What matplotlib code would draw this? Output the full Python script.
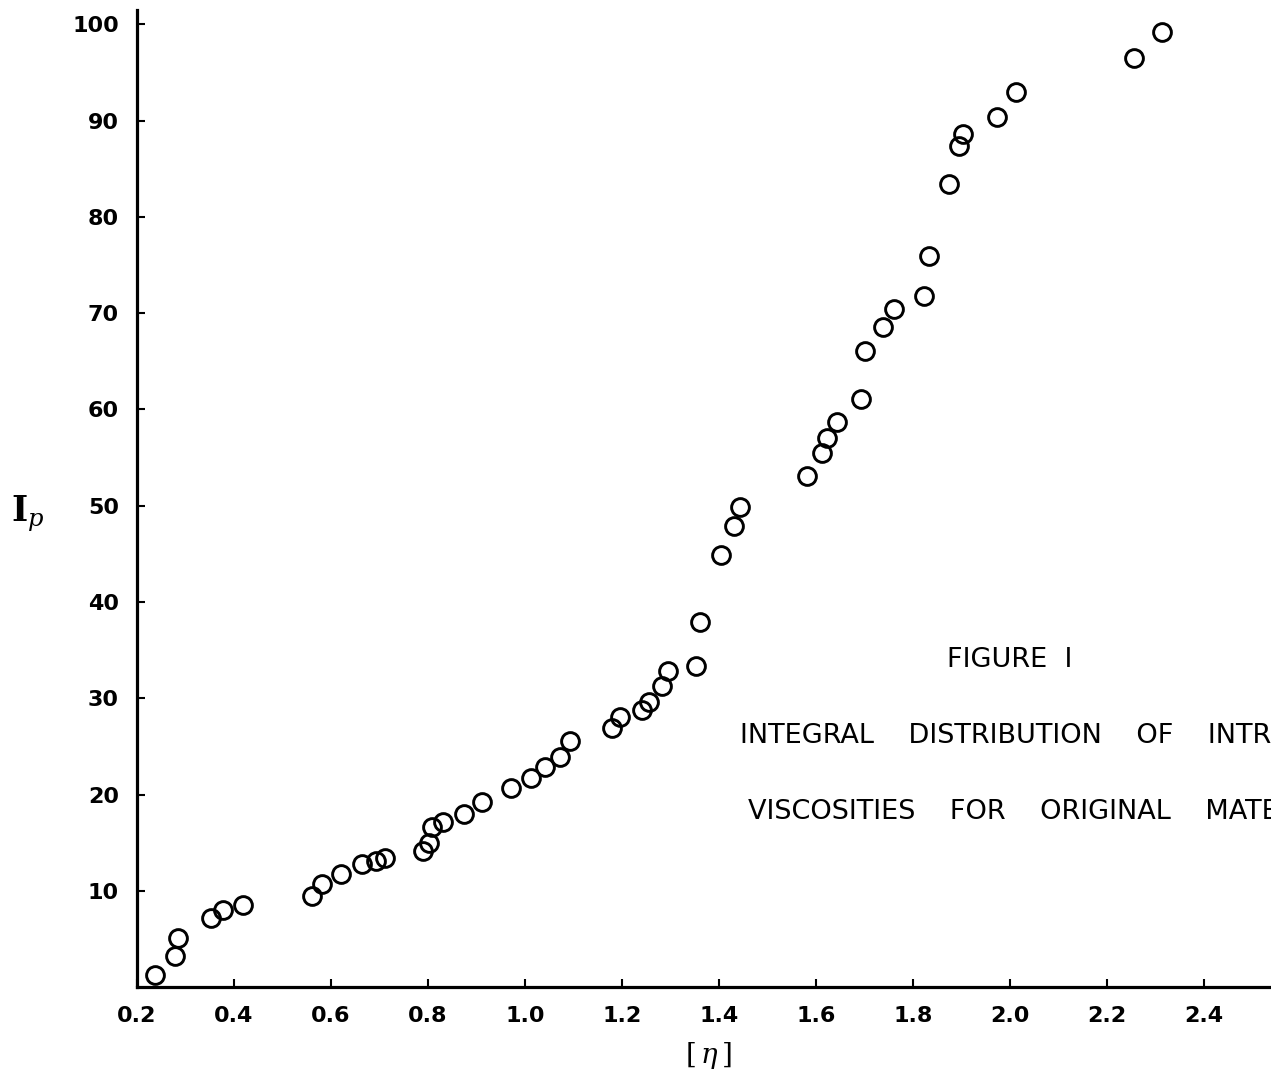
import matplotlib
matplotlib.use("Agg")
import matplotlib.pyplot as plt

# intrinsic viscosity [eta] and integral distribution I_p
eta = [
    0.237, 0.278, 0.285, 0.353, 0.377, 0.419, 0.561, 0.581, 0.621, 0.664,
    0.693, 0.711, 0.790, 0.802, 0.808, 0.831, 0.874, 0.911, 0.971, 1.012,
    1.041, 1.072, 1.093, 1.179, 1.196, 1.241, 1.256, 1.282, 1.295, 1.353,
    1.361, 1.404, 1.431, 1.443, 1.581, 1.612, 1.622, 1.643, 1.693, 1.701,
    1.738, 1.761, 1.822, 1.833, 1.874, 1.895, 1.903, 1.973, 2.012, 2.256,
    2.313,
]
ip = [
    1.25, 3.22, 5.09, 7.17, 8.00, 8.52, 9.45, 10.70, 11.74, 12.78,
    13.09, 13.40, 14.13, 14.96, 16.62, 17.14, 17.97, 19.22, 20.67, 21.71,
    22.85, 23.89, 25.55, 26.90, 28.05, 28.78, 29.61, 31.27, 32.83, 33.35,
    37.92, 44.88, 47.89, 49.86, 53.08, 55.47, 57.03, 58.69, 61.08, 66.07,
    68.56, 70.43, 71.78, 75.94, 83.42, 87.37, 88.61, 90.38, 92.97, 96.50,
    99.20,
]

x_ticks = [0.2, 0.4, 0.6, 0.8, 1.0, 1.2, 1.4, 1.6, 1.8, 2.0, 2.2, 2.4]
y_ticks = [10, 20, 30, 40, 50, 60, 70, 80, 90, 100]

# the scan is cropped at the right edge, so the caption runs off the page
caption = [
    "FIGURE  I",
    "INTEGRAL    DISTRIBUTION    OF    INTRINSIC",
    "VISCOSITIES    FOR    ORIGINAL    MATERIAL",
]

plt.rcParams["font.family"] = ["DejaVu Sans"]
plt.rcParams["mathtext.fontset"] = "dejavuserif"

fig = plt.figure(figsize=(12.71, 10.76), dpi=100)
ax = fig.add_axes([0.1078, 0.0827, 0.8922, 0.9080])

ax.plot(eta, ip, linestyle="none", marker="o", markersize=12.8,
        markerfacecolor="none", markeredgecolor="black", markeredgewidth=2.1,
        clip_on=False)

ax.set_xlim(0.2, 2.538)
ax.set_ylim(0, 101.5)
ax.set_xticks(x_ticks)
ax.set_xticklabels([f"{v:.1f}" for v in x_ticks])
ax.set_yticks(y_ticks)
ax.set_yticklabels([str(v) for v in y_ticks])

for side in ("top", "right"):
    ax.spines[side].set_visible(False)
for side in ("left", "bottom"):
    ax.spines[side].set_linewidth(2.3)

ax.tick_params(axis="both", direction="in", length=6, width=1.5,
               labelsize=16)
ax.tick_params(axis="x", pad=14)
ax.tick_params(axis="y", pad=13)
for lab in ax.get_xticklabels() + ax.get_yticklabels():
    lab.set_fontweight("bold")

ax.set_xlabel(r"$[\,\mathit{\eta}\,]$", fontsize=20, va="center")
ax.xaxis.set_label_coords(0.5036, -0.0696)
ax.set_ylabel(r"$\mathbf{I}_{\mathit{p}}$", fontsize=25, rotation=0,
              va="center", ha="center")
ax.yaxis.set_label_coords(-0.096, 0.485)

ax.text(0.770, 0.335, caption[0], transform=ax.transAxes, fontsize=19.5,
        ha="center", va="center")
ax.text(0.532, 0.257, caption[1], transform=ax.transAxes, fontsize=19.5,
        ha="left", va="center", clip_on=False)
ax.text(0.539, 0.179, caption[2], transform=ax.transAxes, fontsize=19.5,
        ha="left", va="center", clip_on=False)

fig.savefig("out.png", dpi=100)
